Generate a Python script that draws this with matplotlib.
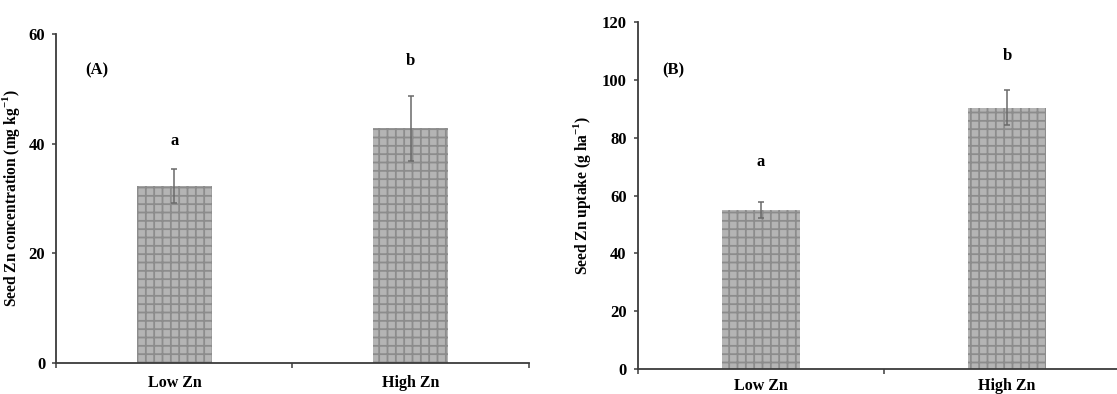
import matplotlib
matplotlib.use("Agg")
import matplotlib.pyplot as plt

plt.rcParams['font.family'] = ['Liberation Serif', 'DejaVu Serif']
plt.rcParams['font.weight'] = 'bold'
plt.rcParams['mathtext.fontset'] = 'custom'
plt.rcParams['mathtext.rm'] = 'Liberation Serif:bold'
plt.rcParams['mathtext.bf'] = 'Liberation Serif:bold'
plt.rcParams['hatch.linewidth'] = 1.3

categories = ["Low Zn", "High Zn"]
conc_values = [32.2, 42.8]
conc_errors = [3.1, 5.9]
conc_letters = ["a", "b"]
uptake_values = [55.0, 90.5]
uptake_errors = [2.8, 6.0]
uptake_letters = ["a", "b"]

fig = plt.figure(figsize=(11.17, 3.94), dpi=100)
axA = fig.add_axes([0.0504, 0.0787, 0.4229, 0.835])
axB = fig.add_axes([0.5709, 0.0642, 0.441, 0.879])

SPINE = '#3c3c3c'


def draw(ax, values, errors, letters, ymax, step, ylabel, panel, panel_x, panel_y,
         letter_y, labelpad, xpad):
    x = list(range(len(categories)))
    ax.bar(x, values, width=0.316, color='#b4b4b4', edgecolor='#8c8c8c',
           hatch='++', linewidth=0, zorder=2)
    ax.errorbar(x, values, yerr=errors, fmt='none', ecolor='#6a6a6a',
                elinewidth=1.1, capsize=2.5, capthick=1.1, zorder=3)
    for xi, lt, ly in zip(x, letters, letter_y):
        ax.text(xi, ly, lt, ha='center', va='center', fontsize=12, fontweight='bold')
    ax.text(panel_x, panel_y, panel, ha='center', va='center', fontsize=12, fontweight='bold')
    ax.set_xlim(-0.5, 1.5)
    ax.set_ylim(0, ymax)
    ax.set_yticks(range(0, ymax + 1, step))
    ax.set_xticks([-0.5, 0.5, 1.5])
    ax.set_xticklabels([])
    ax.set_xticks(x, minor=True)
    ax.set_xticklabels(categories, minor=True)
    ax.tick_params(axis='x', which='minor', length=0, pad=xpad, labelsize=11.5)
    ax.tick_params(axis='x', which='major', length=3.5, direction='out', width=1.1, color=SPINE)
    ax.tick_params(axis='y', length=3, direction='out', width=1.1, labelsize=12, pad=5, color=SPINE)
    for lab in ax.get_xticklabels(minor=True) + ax.get_yticklabels():
        lab.set_fontweight('bold')
    ax.spines['top'].set_visible(False)
    ax.spines['right'].set_visible(False)
    for s in ('left', 'bottom'):
        ax.spines[s].set_linewidth(1.3)
        ax.spines[s].set_color(SPINE)
    ax.set_ylabel(ylabel, fontsize=11.2, fontweight='bold', labelpad=labelpad)


draw(axA, conc_values, conc_errors, conc_letters, 60, 20,
     r"Seed Zn concentration (mg kg$^{\mathbf{-1}}$)", "(A)", -0.33, 53.3, [40.5, 55.0], 5, 9)
draw(axB, uptake_values, uptake_errors, uptake_letters, 120, 20,
     r"Seed Zn uptake (g ha$^{\mathbf{-1}}$)", "(B)", -0.354, 103.4, [71.5, 108.3], 6, 6.5)

fig.savefig("out.png", dpi=100)
